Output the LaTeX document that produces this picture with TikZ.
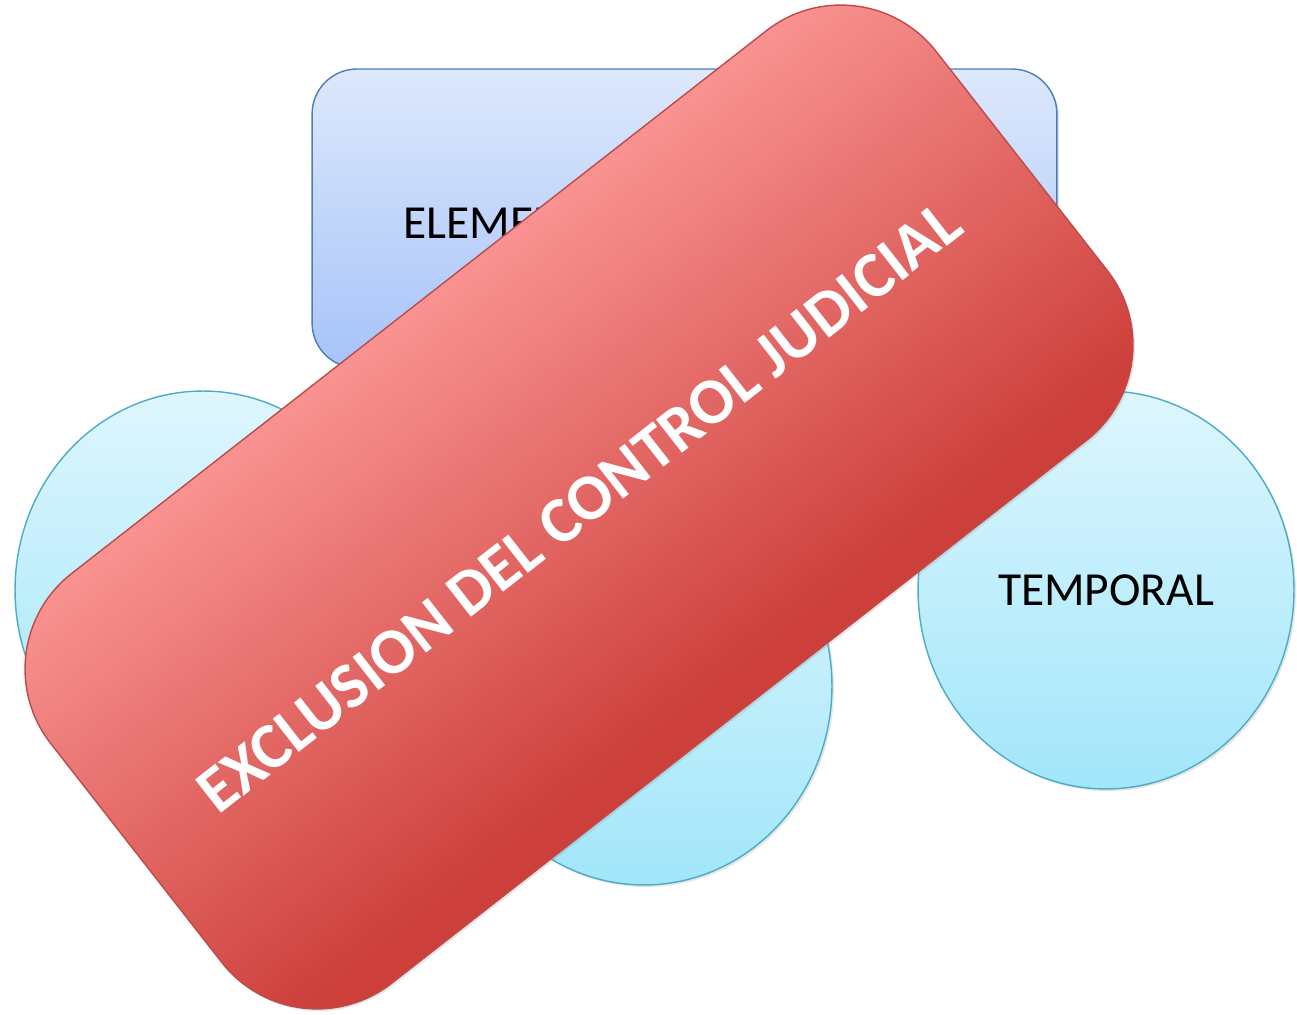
\documentclass[tikz,border=0pt]{standalone}
\usepackage{fontspec}
\setmainfont{Carlito}
\usepackage{xcolor}
\usepackage{tikz}
\usetikzlibrary{shapes.geometric,shadows}

\definecolor{azularriba}{HTML}{DDE8FC}
\definecolor{azulabajo}{HTML}{A6C3F9}
\definecolor{azulborde}{HTML}{4A7EBB}
\definecolor{cianarriba}{HTML}{DEF6FD}
\definecolor{cianabajo}{HTML}{A2E6FA}
\definecolor{cianborde}{HTML}{4BACC6}
\definecolor{rojoarriba}{HTML}{FC9997}
\definecolor{rojoabajo}{HTML}{CD3F3B}
\definecolor{rojoborde}{HTML}{BE4B48}
% degradado del sello (el sello solo ocupa la franja central)
\pgfdeclareverticalshading{sellorojo}{100bp}{color(0bp)=(rojoabajo); color(40bp)=(rojoabajo);
  color(63bp)=(rojoarriba); color(100bp)=(rojoarriba)}

\begin{document}
\begin{tikzpicture}[x=0.02cm,y=0.02cm,
  sombra/.style={drop shadow={shadow xshift=1.2pt,shadow yshift=-1.2pt,opacity=0.2}},
  bloque/.style={rectangle, rounded corners=0.9cm, draw=azulborde, line width=0.8pt,
    top color=azularriba, bottom color=azulabajo, minimum width=14.9cm, minimum height=5.98cm, inner sep=0pt, sombra},
  circulo/.style={ellipse, draw=cianborde, line width=0.8pt, top color=cianarriba, bottom color=cianabajo,
    minimum width=7.52cm, minimum height=7.96cm, inner sep=0pt, sombra, font=\fontsize{27}{32}\selectfont},
  sello/.style={rectangle, rounded corners=2.42cm, draw=rojoborde, line width=0.8pt,
    shade, shading=sellorojo, shading angle=38,
    minimum width=22.48cm, minimum height=10.4cm, inner sep=0pt,
    sombra, text=white, font=\bfseries\fontsize{37}{44}\selectfont}]
\useasboundingbox (0,0) rectangle (1297,1014);
\node[bloque]		(E) at (684.5,795.5)	{};
\node[anchor=west, inner sep=0pt, font=\fontsize{27}{32}\selectfont]	(Et) at (403,791)	{ELEMENTO};
  \node[circulo]	(L) at (203,424)	{};
  \node[circulo]	(M) at (644,328)	{};
  \node[circulo]	(T) at (1106,424)	{TEMPORAL};

  \node[sello, rotate=38]	(X) at (579,507)	{EXCLUSION DEL CONTROL JUDICIAL};
\end{tikzpicture}
\end{document}
